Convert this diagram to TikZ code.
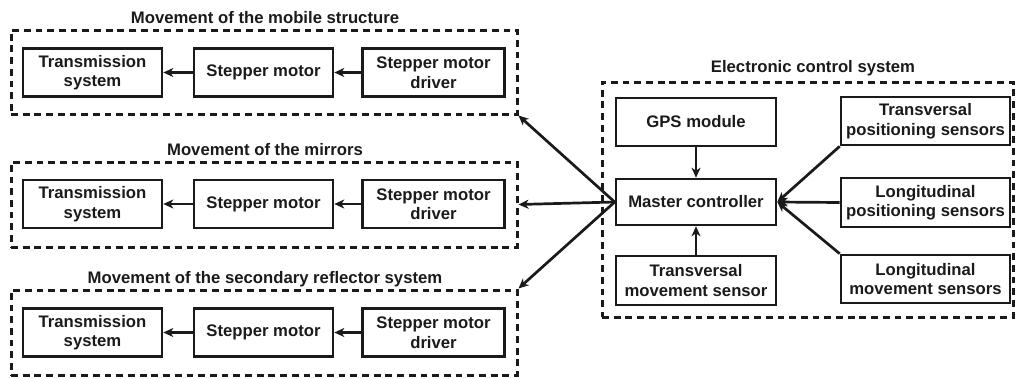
\documentclass[tikz,border=0pt]{standalone}
\usepackage{fontspec}
\setmainfont{Liberation Sans}
\usetikzlibrary{arrows.meta}
\definecolor{ink}{HTML}{1A1A1A}
\tikzset{
  x=1pt, y=-1pt,
  every node/.style={font=\fontsize{16.7}{19.5}\selectfont\bfseries, text=ink, inner sep=0pt},
  blk/.style={draw=ink, line width=2.6pt, align=center, minimum width=#1, minimum height=48pt},
  blk/.default=139pt,
  grp/.style={draw=ink, line width=3pt, dash pattern=on 6.8pt off 4.9pt, minimum width=#1},
  title/.style={},
  link/.style={draw=ink, line width=2.7pt, -{Stealth[length=10pt,width=9pt,inset=3pt]}},
}
\begin{document}
\begin{tikzpicture}
\useasboundingbox (0,0) rectangle (1015,378);

% drive chains on the left
\node[grp=506pt, minimum height=84pt] (g1) at (264,72) {};
\node[title] at (265,18) {Movement of the mobile structure};
\node[blk] (ts1) at (92.5,72.5) {Transmission\\system};
\node[blk] (sm1) at (263.5,72.5) {Stepper motor};
\node[blk=142pt] (dr1) at (433.5,72.5) {Stepper motor\\driver};

\node[grp=506pt, minimum height=85pt] (g2) at (264,204.5) {};
\node[title] at (265,150) {Movement of the mirrors};
\node[blk] (ts2) at (92.5,204) {Transmission\\system};
\node[blk] (sm2) at (263.5,204) {Stepper motor};
\node[blk=142pt] (dr2) at (433.5,204) {Stepper motor\\driver};

\node[grp=506pt, minimum height=85pt] (g3) at (264,332.5) {};
\node[title] at (265,279) {Movement of the secondary reflector system};
\node[blk] (ts3) at (92.5,332.5) {Transmission\\system};
\node[blk] (sm3) at (263.5,332.5) {Stepper motor};
\node[blk=142pt] (dr3) at (433.5,332.5) {Stepper motor\\driver};

\foreach \i in {1,2,3}{
  \draw[link] (dr\i.west) -- (sm\i.east);
  \draw[link] (sm\i.west) -- (ts\i.east);
}

% control system on the right
\node[grp=411pt, minimum height=235pt] (ecs) at (807.5,199.5) {};
\node[title] at (813,68) {Electronic control system};
\node[blk=160pt] (gps) at (696,122) {GPS module};
\node[blk=160pt, minimum height=46pt] (mc) at (696,202) {Master controller};
\node[blk=160pt, minimum height=49pt] (tms) at (696,280.5) {Transversal\\movement sensor};
\node[blk=169pt] (tps) at (925.5,121) {Transversal\\positioning sensors};
\node[blk=169pt, minimum height=49pt] (lps) at (925.5,202.5) {Longitudinal\\positioning sensors};
\node[blk=169pt] (lms) at (925.5,279) {Longitudinal\\movement sensors};

\draw[link] (gps.south) -- (mc.north);
\draw[link] (tms.north) -- (mc.south);
\draw[link] (tps.south west) -- (mc.east);
\draw[link] (lps.west) -- (mc.east);
\draw[link] (lms.north west) -- (mc.east);

\draw[link] (mc.west) -- (g1.south east);
\draw[link] (mc.west) -- (g2.east);
\draw[link] (mc.west) -- (g3.north east);
\end{tikzpicture}
\end{document}
